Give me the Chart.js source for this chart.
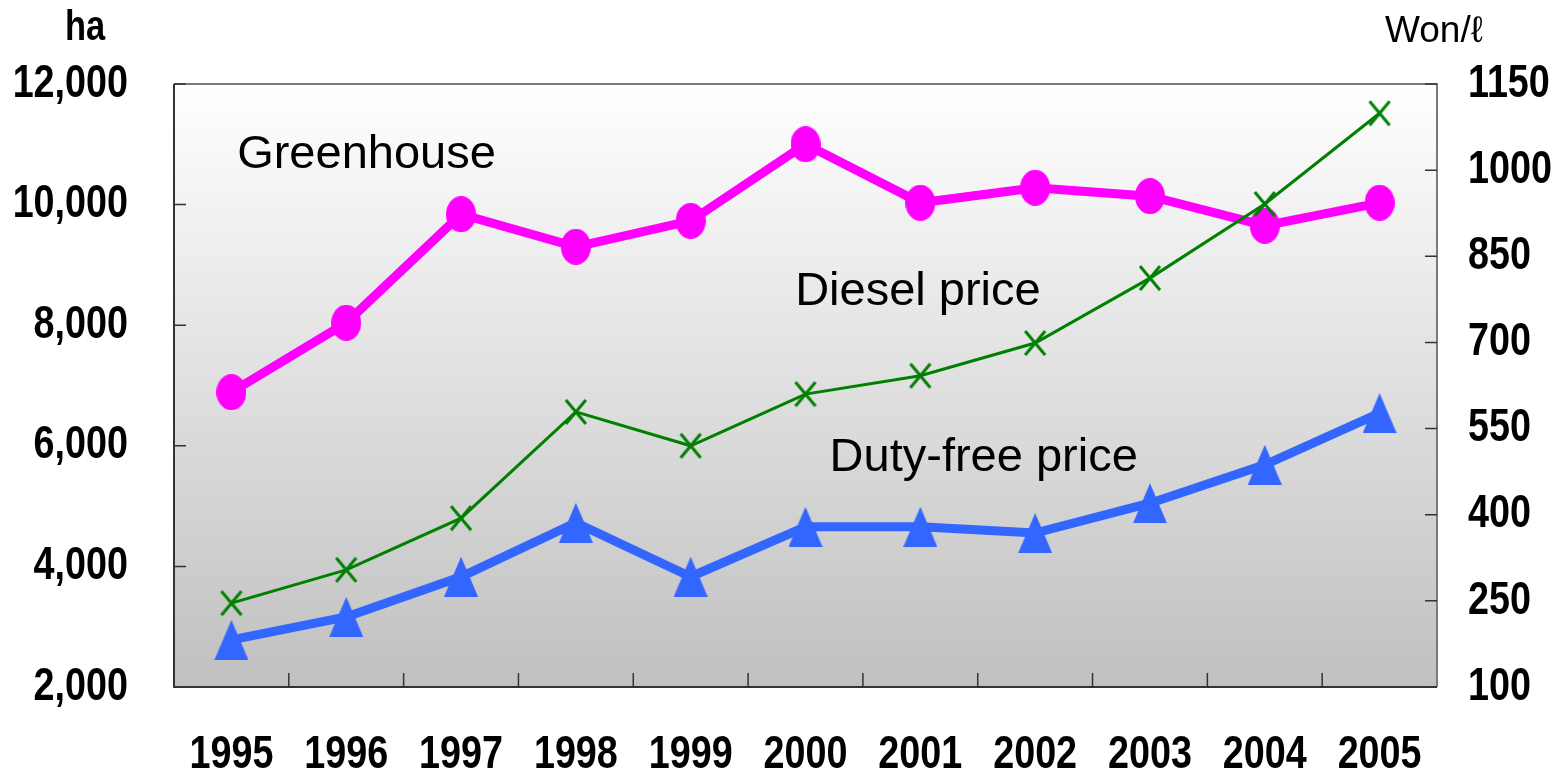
<!DOCTYPE html>
<html>
<head>
<meta charset="utf-8">
<script src="https://cdn.jsdelivr.net/npm/chart.js@4/dist/chart.umd.min.js"></script>
<style>
  body { margin: 0; background: #fff; }
  #wrap { width: 1561px; height: 774px; position: relative; }
</style>
</head>
<body>
<div id="wrap"><canvas id="myChart"></canvas></div>
<script>
// chart data
const years = ['1995', '1996', '1997', '1998', '1999', '2000', '2001', '2002', '2003', '2004', '2005'];
const greenhouse = [6890, 8040, 9840, 9300, 9730, 11000, 10030, 10280, 10140, 9650, 10030];   // ha, left axis
const dieselPrice = [246, 304, 394, 579, 520, 610, 642, 699, 812, 941, 1099];              // Won/l, right axis
const dutyFreePrice = [182, 222, 292, 386, 292, 379, 379, 368, 420, 487, 577];             // Won/l, right axis

const leftTicks = [2000, 4000, 6000, 8000, 10000, 12000];
const rightTicks = [100, 250, 400, 550, 700, 850, 1000, 1150];

// in-plot series names (x = category index, y = left axis value)
const seriesNames = [
    { text: 'Greenhouse', x: 0.05, y: 10820 },
    { text: 'Diesel price', x: 4.91, y: 8550 },
    { text: 'Duty-free price', x: 5.21, y: 5800 }
];

// no narrow font installed, so bold labels get squeezed sideways
const boldFont = "bold 46px 'Liberation Sans', Arial, sans-serif";
const squeeze = 0.82;

function narrowText(ctx, text, x, y, align) {
    ctx.save();
    ctx.translate(x, y);
    ctx.scale(squeeze, 1);
    ctx.textAlign = align;
    ctx.fillText(text, 0, 0);
    ctx.restore();
}

// marker images
function makeMarker(w, h, draw) {
    const c = document.createElement('canvas');
    c.width = w; c.height = h;
    draw(c.getContext('2d'), w, h);
    return c;
}
const dot = makeMarker(30, 36, (g, w, h) => {
    g.fillStyle = '#ff00ff';
    g.beginPath();
    g.ellipse(w / 2, h / 2, w / 2, h / 2, 0, 0, Math.PI * 2);
    g.fill();
});
const tri = makeMarker(34, 40, (g, w, h) => {
    g.fillStyle = '#3366ff';
    g.beginPath();
    g.moveTo(w / 2, 0);
    g.lineTo(w, h);
    g.lineTo(0, h);
    g.closePath();
    g.fill();
});
const cross = makeMarker(24, 28, (g, w, h) => {
    g.strokeStyle = '#008000';
    g.lineWidth = 3;
    g.beginPath();
    g.moveTo(2, 2); g.lineTo(w - 2, h - 2);
    g.moveTo(w - 2, 2); g.lineTo(2, h - 2);
    g.stroke();
});

// gradient background, frame, inward tick marks and all the texts
const frame = {
    id: 'frame',
    beforeDatasetsDraw(chart) {
        const { ctx, chartArea: a, scales } = chart;
        ctx.save();
        const grad = ctx.createLinearGradient(0, a.top, 0, a.bottom);
        grad.addColorStop(0, '#ffffff');
        grad.addColorStop(1, '#c0c0c0');
        ctx.fillStyle = grad;
        ctx.fillRect(a.left, a.top, a.right - a.left, a.bottom - a.top);

        ctx.lineWidth = 2;
        ctx.strokeStyle = '#7a7a7a';
        ctx.beginPath();
        ctx.moveTo(a.left, a.top); ctx.lineTo(a.right, a.top); ctx.lineTo(a.right, a.bottom);
        ctx.stroke();
        ctx.strokeStyle = '#333';
        ctx.beginPath();
        ctx.moveTo(a.left, a.top); ctx.lineTo(a.left, a.bottom); ctx.lineTo(a.right, a.bottom);
        ctx.stroke();

        ctx.lineWidth = 1.5;
        ctx.beginPath();
        leftTicks.forEach(v => {
            const y = scales.y.getPixelForValue(v);
            ctx.moveTo(a.left, y); ctx.lineTo(a.left + 12, y);
        });
        rightTicks.forEach(v => {
            const y = scales.y1.getPixelForValue(v);
            ctx.moveTo(a.right, y); ctx.lineTo(a.right - 12, y);
        });
        for (let i = 1; i < years.length; i++) {
            const x = (scales.x.getPixelForValue(i - 1) + scales.x.getPixelForValue(i)) / 2;
            ctx.moveTo(x, a.bottom); ctx.lineTo(x, a.bottom - 14);
        }
        ctx.stroke();
        ctx.restore();
    },
    afterDraw(chart) {
        const { ctx, chartArea: a, scales } = chart;
        ctx.save();
        ctx.fillStyle = '#000';
        ctx.textBaseline = 'middle';

        // tick labels
        ctx.font = boldFont;
        leftTicks.forEach(v => {
            narrowText(ctx, v.toLocaleString('en-US'), a.left - 46, scales.y.getPixelForValue(v), 'right');
        });
        rightTicks.forEach(v => {
            narrowText(ctx, String(v), a.right + 31, scales.y1.getPixelForValue(v), 'left');
        });
        years.forEach((yr, i) => {
            narrowText(ctx, yr, scales.x.getPixelForValue(i), a.bottom + 68, 'center');
        });

        // series names
        ctx.font = "47px 'Liberation Sans', Arial, sans-serif";
        ctx.textAlign = 'left';
        seriesNames.forEach(s => {
            ctx.fillText(s.text, scales.x.getPixelForValue(s.x), scales.y.getPixelForValue(s.y));
        });

        // axis units
        ctx.font = "bold 42px 'Liberation Sans', Arial, sans-serif";
        narrowText(ctx, 'ha', 85, 28, 'center');
        ctx.font = "37px 'Liberation Sans', Arial, sans-serif";
        ctx.textAlign = 'left';
        ctx.fillText('Won/ℓ', 1385, 32);
        ctx.restore();
    }
};

new Chart(document.getElementById('myChart'), {
    type: 'line',
    data: {
        labels: years,
        datasets: [
            {
                label: 'Greenhouse',
                data: greenhouse,
                yAxisID: 'y',
                borderColor: '#ff00ff',
                borderWidth: 9,
                pointStyle: dot,
                order: 2
            },
            {
                label: 'Diesel price',
                data: dieselPrice,
                yAxisID: 'y1',
                borderColor: '#008000',
                borderWidth: 3,
                pointStyle: cross,
                order: 1
            },
            {
                label: 'Duty-free price',
                data: dutyFreePrice,
                yAxisID: 'y1',
                borderColor: '#3366ff',
                borderWidth: 9,
                pointStyle: tri,
                order: 3
            }
        ]
    },
    options: {
        responsive: true,
        maintainAspectRatio: false,
        animation: false,
        layout: { padding: { top: 84, left: 0, right: 0, bottom: 0 } },
        plugins: {
            legend: { display: false },
            tooltip: { enabled: false }
        },
        elements: {
            line: { tension: 0 },
            point: { radius: 15 }
        },
        scales: {
            x: {
                offset: true,
                grid: { display: false },
                border: { display: false },
                ticks: { display: false },
                afterFit: (s) => { s.height = 87; }
            },
            y: {
                position: 'left',
                min: 2000,
                max: 12000,
                grid: { display: false },
                border: { display: false },
                ticks: { display: false, stepSize: 2000 },
                afterFit: (s) => { s.width = 174; }
            },
            y1: {
                position: 'right',
                min: 100,
                max: 1150,
                grid: { display: false },
                border: { display: false },
                ticks: { display: false, stepSize: 150 },
                afterFit: (s) => { s.width = 124; }
            }
        }
    },
    plugins: [frame]
});
</script>
</body>
</html>
